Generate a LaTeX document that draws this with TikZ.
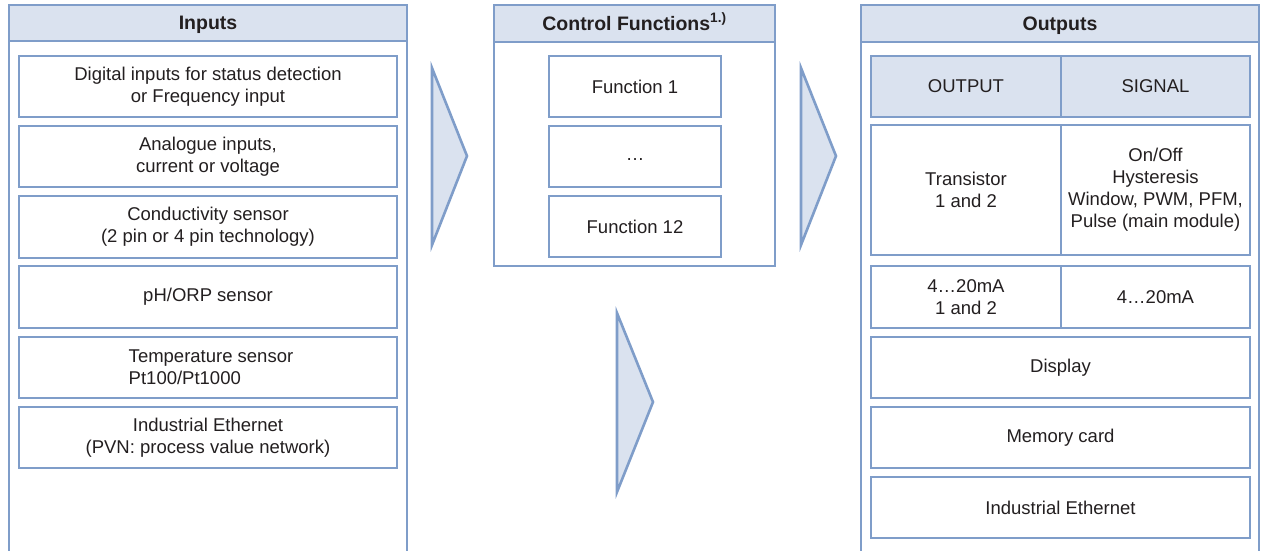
\documentclass[tikz,border=0pt]{standalone}
\usepackage{fontspec}
\setmainfont{Liberation Sans}
\definecolor{bord}{HTML}{7F9DC9}
\definecolor{lite}{HTML}{DAE2EF}
\definecolor{ink}{HTML}{231F20}
\begin{document}
\begin{tikzpicture}[x=1pt,y=-1pt,
  every node/.style={inner sep=0pt, outer sep=0pt, text=ink, anchor=north west},
  frame/.style={draw=bord, line width=2.6pt},
  panelbody/.style={frame, fill=white},
  panelhead/.style={frame, fill=lite, font=\bfseries\fontsize{19.5}{22}\selectfont, text height=14pt, text depth=0pt},
  item/.style={frame, fill=white, align=center, font=\fontsize{18.5}{22}\selectfont},
  cellhead/.style={item, fill=lite},
  arrowshape/.style={draw=bord, fill=lite, line width=2.6pt, line join=miter}]
\useasboundingbox (0,0) rectangle (1261,551);
\clip (0,0) rectangle (1261,551);
% Inputs panel
\node[panelbody, minimum width=398pt, minimum height=530pt] (inbody) at (9,41) {};
\node[panelhead, minimum width=398pt, minimum height=36pt] (inhead) at (9,5) {Inputs};
\node[item, minimum width=378pt, minimum height=61pt] (in1) at (19,56) {Digital inputs for status detection\\or Frequency input};
\node[item, minimum width=378pt, minimum height=61pt] (in2) at (19,126) {Analogue inputs,\\current or voltage};
\node[item, minimum width=378pt, minimum height=62pt] (in3) at (19,196) {Conductivity sensor\\(2 pin or 4 pin technology)};
\node[item, minimum width=378pt, minimum height=62pt] (in4) at (19,266) {pH/ORP sensor};
\node[item, minimum width=378pt, minimum height=61pt] (in5) at (19,337) {};
\node[align=left, font=\fontsize{18.5}{22}\selectfont, anchor=center] (in5t) at ([xshift=3pt]in5.center) {Temperature sensor\\Pt100/Pt1000};
\node[item, minimum width=378pt, minimum height=61pt] (in6) at (19,407) {Industrial Ethernet\\(PVN: process value network)};
% Control panel
\node[panelbody, minimum width=281pt, minimum height=224pt] (cfbody) at (494,42) {};
\node[panelhead, minimum width=281pt, minimum height=37pt, text depth=-5pt] (cfhead) at (494,5) {Control Functions\textsuperscript{1.)}};
\node[item, minimum width=172pt, minimum height=61pt] (f1) at (549,56) {Function 1};
\node[item, minimum width=172pt, minimum height=61pt] (f2) at (549,126) {\vphantom{Fg}\dots};
\node[item, minimum width=172pt, minimum height=61pt] (f3) at (549,196) {Function 12};
% Outputs panel
\node[panelbody, minimum width=398pt, minimum height=530pt] (outbody) at (861,42) {};
\node[panelhead, minimum width=398pt, minimum height=37pt] (outhead) at (861,5) {Outputs};
\node[cellhead, minimum width=190pt, minimum height=61pt] (oh1) at (871,56) {OUTPUT};
\node[cellhead, minimum width=189pt, minimum height=61pt] (oh2) at (1061,56) {SIGNAL};
\node[item, minimum width=190pt, minimum height=130pt] (o1a) at (871,125) {Transistor\\1 and 2};
\node[item, minimum width=189pt, minimum height=130pt] (o1b) at (1061,125) {On/Off\\Hysteresis\\Window, PWM, PFM,\\Pulse (main module)};
\node[item, minimum width=190pt, minimum height=62pt] (o2a) at (871,266) {4\dots20mA\\1 and 2};
\node[item, minimum width=189pt, minimum height=62pt] (o2b) at (1061,266) {4\dots20mA};
\node[item, minimum width=379pt, minimum height=61pt] (o3) at (871,337) {Display};
\node[item, minimum width=379pt, minimum height=61pt] (o4) at (871,407) {Memory card};
\node[item, minimum width=379pt, minimum height=61pt] (o5) at (871,477) {Industrial Ethernet};
% Arrows
\draw[arrowshape] (432,68) -- (467,156) -- (432,245) -- cycle;
\draw[arrowshape] (801,68) -- (836,156) -- (801,245) -- cycle;
\draw[arrowshape] (617,313) -- (653,402) -- (617,492) -- cycle;
\end{tikzpicture}
\end{document}
